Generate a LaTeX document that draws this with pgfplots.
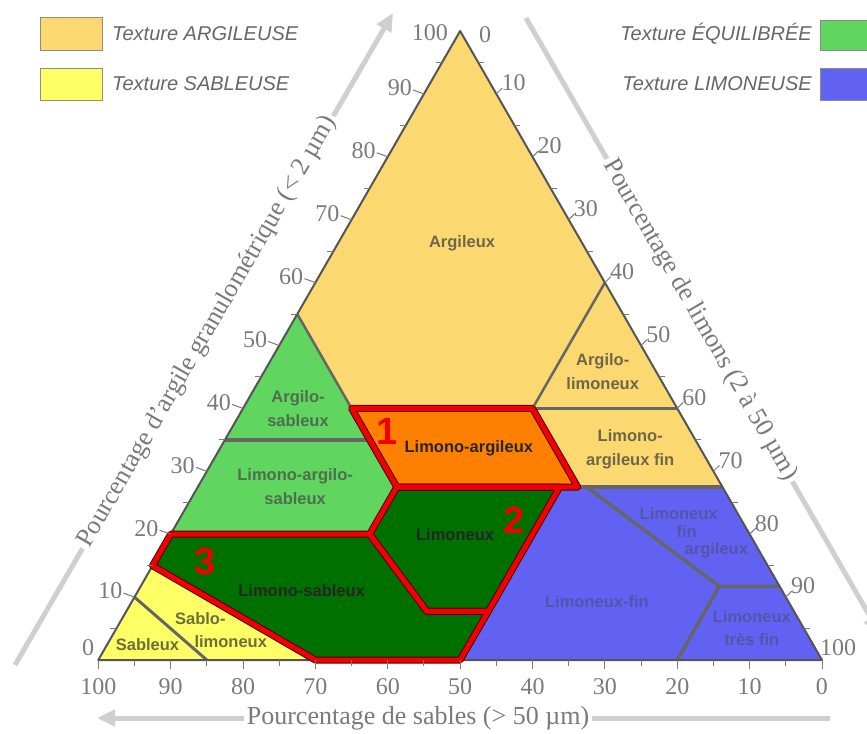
\documentclass[border=0pt]{standalone}
\usepackage{pgfplots}
\pgfplotsset{compat=1.18}
\usepackage{fontspec}
\setmainfont{Liberation Serif}
\newfontfamily\lsans{Liberation Sans}
\usetikzlibrary{arrows.meta}

\definecolor{argi}{HTML}{FCD970}
\definecolor{sabl}{HTML}{FFFF66}
\definecolor{equi}{HTML}{60D660}
\definecolor{limo}{HTML}{6262F2}
\definecolor{orng}{HTML}{FF8000}
\definecolor{dgrn}{HTML}{007000}
\definecolor{bord}{HTML}{666666}
\definecolor{edgec}{HTML}{555555}
\definecolor{tickc}{HTML}{7A7A7A}
\definecolor{arrowc}{HTML}{CFCFCF}
\definecolor{txtargi}{HTML}{6E6648}
\definecolor{txtequi}{HTML}{4E6E4E}
\definecolor{txtsabl}{HTML}{6E6E3A}
\definecolor{txtlimo}{HTML}{5454AA}
\definecolor{redb}{HTML}{F00000}

\begin{document}
\begin{tikzpicture}[
  rl/.style={font=\lsans\bfseries\fontsize{16.5}{24}\selectfont, align=center, inner sep=0pt},
  num/.style={font=\lsans\bfseries\fontsize{38}{38}\selectfont, text=redb, inner sep=0pt},
  tl/.style={font=\fontsize{24}{24}\selectfont, text=tickc, inner sep=0pt},
  gl/.style={bord, line width=3.5pt},
  rb/.style={draw=redb, line width=5pt, line join=round}]
\begin{axis}[name=ax, x=7.237pt, y=6.29pt,
  xmin=-13.58, xmax=106.22, ymin=-11.61, ymax=104.93,
  enlargelimits=false, hide axis, clip=false]

% zones (x = position along the base, y = clay %)
\addplot[fill=argi, draw=none] coordinates {(50,100) (27.5,55) (35,40) (60,40) (70,60)} --cycle;
\addplot[fill=argi, draw=none] coordinates {(70,60) (60,40) (80,40)} --cycle;
\addplot[fill=argi, draw=none] coordinates {(60,40) (80,40) (86.25,27.5) (66.25,27.5)} --cycle;
\addplot[fill=orng, draw=none] coordinates {(35,40) (60,40) (66.25,27.5) (41.25,27.5)} --cycle;
\addplot[fill=equi, draw=none] coordinates {(27.5,55) (17.5,35) (37.5,35) (35,40)} --cycle;
\addplot[fill=equi, draw=none] coordinates {(17.5,35) (37.5,35) (41.25,27.5) (37.5,20) (10,20)} --cycle;
\addplot[fill=dgrn, draw=none] coordinates {(41.25,27.5) (63.75,27.5) (53.9,7.75) (45.4,7.75) (37.5,20)} --cycle;
\addplot[fill=dgrn, draw=none] coordinates {(10,20) (37.5,20) (45.4,7.75) (53.9,7.75) (50,0) (30,0) (7.5,15)} --cycle;
\addplot[fill=sabl, draw=none] coordinates {(0,0) (5,10) (15,0)} --cycle;
\addplot[fill=sabl, draw=none] coordinates {(5,10) (7.5,15) (30,0) (15,0)} --cycle;
\addplot[fill=limo, draw=none] coordinates {(50,0) (63.75,27.5) (67.5,27.5) (85.8,11.7) (80,0)} --cycle;
\addplot[fill=limo, draw=none] coordinates {(67.5,27.5) (86.25,27.5) (94.15,11.7) (85.8,11.7)} --cycle;
\addplot[fill=limo, draw=none] coordinates {(85.8,11.7) (94.15,11.7) (100,0) (80,0)} --cycle;

% boundaries
\addplot[bord, line width=2.5pt] coordinates {(27.5,55) (35,40)};
\addplot[bord, line width=2.5pt] coordinates {(60,40) (70,60)};
\addplot[gl] coordinates {(60,40) (80,40)};
\addplot[gl] coordinates {(17.5,35) (37.5,35)};
\addplot[gl] coordinates {(66.25,27.5) (86.25,27.5)};
\addplot[gl] coordinates {(67.5,27.5) (85.8,11.7) (94.15,11.7)};
\addplot[gl] coordinates {(85.8,11.7) (80,0)};
\addplot[bord, line width=3pt] coordinates {(5,10) (15,0)};
\addplot[edgec, line width=2pt, line join=round] coordinates {(0,0) (100,0) (50,100)} --cycle;

% outlined zones 1, 2, 3
\addplot[rb, draw=black!70!red, line width=7pt] coordinates {(35,40) (60,40) (66.25,27.5) (41.25,27.5)} --cycle;
\addplot[rb, draw=black!70!red, line width=7pt] coordinates {(41.25,27.5) (63.75,27.5) (53.9,7.75) (45.4,7.75) (37.5,20)} --cycle;
\addplot[rb, draw=black!70!red, line width=7pt] coordinates {(10,20) (37.5,20) (45.4,7.75) (53.9,7.75) (50,0) (30,0) (7.5,15)} --cycle;
\addplot[rb] coordinates {(35,40) (60,40) (66.25,27.5) (41.25,27.5)} --cycle;
\addplot[rb] coordinates {(41.25,27.5) (63.75,27.5) (53.9,7.75) (45.4,7.75) (37.5,20)} --cycle;
\addplot[rb] coordinates {(10,20) (37.5,20) (45.4,7.75) (53.9,7.75) (50,0) (30,0) (7.5,15)} --cycle;

% zone names
\node[rl, text=txtargi] at (axis cs:50.26,66.3) {Argileux};
\node[rl, text=txtargi] at (axis cs:69.7,45.8) {Argilo-\\limoneux};
\node[rl, text=txtargi] at (axis cs:73.5,33.5) {Limono-\\argileux fin};
\node[rl, text=txtequi] at (axis cs:27.6,40) {Argilo-\\sableux};
\node[rl, text=txtequi] at (axis cs:27.2,27.5) {Limono-argilo-\\sableux};
\node[rl, text=black!85] at (axis cs:51.2,33.6) {Limono-argileux};
\node[rl, text=black!85] at (axis cs:49.3,19.9) {Limoneux};
\node[rl, text=black!85] at (axis cs:28.1,11.1) {Limono-sableux};
\node[rl, text=txtsabl] at (axis cs:6.8,2.5) {Sableux};
\node[rl, text=txtsabl] at (axis cs:14.1,6.6) {Sablo-};
\node[rl, text=txtsabl] at (axis cs:18.3,2.9) {limoneux};
\node[rl, text=txtlimo] at (axis cs:68.9,9.3) {Limoneux-fin};
\node[rl, text=txtlimo] at (axis cs:80.2,23.3) {Limoneux};
\node[rl, text=txtlimo] at (axis cs:81.3,20.4) {fin};
\node[rl, text=txtlimo] at (axis cs:85.4,17.5) {argileux};
\node[rl, text=txtlimo] at (axis cs:90.3,6.9) {Limoneux};
\node[rl, text=txtlimo] at (axis cs:90.3,3.2) {très fin};
\node[num] at (axis cs:39.9,36.3) {1};
\node[num] at (axis cs:57.4,22.3) {2};
\node[num] at (axis cs:14.7,15.6) {3};

% clay scale (left side)
\pgfplotsinvokeforeach{10,20,...,90}{
  \node[tl, anchor=east, xshift=-12pt, yshift=6pt] at (axis cs:0.5*#1,#1) {#1};
  \draw[tickc, line width=1pt] (axis cs:0.5*#1,#1) -- ++(-11pt,4pt);
}
\pgfplotsinvokeforeach{5,15,...,95}{
  \draw[tickc, line width=1pt] (axis cs:0.5*#1,#1) -- ++(-6pt,0pt);
}
\node[tl, anchor=east, xshift=-12pt, yshift=-2pt] at (axis cs:50,100) {100};
\node[tl, anchor=east, xshift=-4pt, yshift=12pt] at (axis cs:0,0) {0};

% silt scale (right side)
\pgfplotsinvokeforeach{10,20,...,90}{
  \node[tl, anchor=west, xshift=5pt, yshift=11pt] at (axis cs:50+0.5*#1,100-#1) {#1};
  \draw[tickc, line width=1pt] (axis cs:50+0.5*#1,100-#1) -- ++(6pt,6pt);
}
\pgfplotsinvokeforeach{5,15,...,95}{
  \draw[tickc, line width=1pt] (axis cs:50+0.5*#1,100-#1) -- ++(6pt,0pt);
}
\node[tl, xshift=25pt, yshift=-4pt] at (axis cs:50,100) {0};
\node[tl, anchor=west, xshift=-2pt, yshift=12pt] at (axis cs:100,0) {100};

% sand scale (bottom)
\pgfplotsinvokeforeach{0,10,...,100}{
  \node[tl, yshift=-27pt] at (axis cs:100-#1,0) {#1};
  \draw[tickc, line width=1pt] (axis cs:100-#1,0) -- ++(0pt,-9pt);
}
\pgfplotsinvokeforeach{5,15,...,95}{
  \draw[tickc, line width=1pt] (axis cs:100-#1,0) -- ++(0pt,-6pt);
}
\end{axis}

% titles, arrows and legend, in pixel units from the top-left corner
\begin{scope}[shift={(ax.north west)}, x=1pt, y=-1pt,
  ttl/.style={font=\fontsize{26}{26}\selectfont, text=tickc, fill=white, inner sep=3pt},
  arr/.style={arrowc, line width=5pt, -{Triangle[length=18pt,width=16pt]}},
  lg/.style={font=\lsans\itshape\fontsize{20}{24}\selectfont, text=black!60, inner sep=0pt}]
\draw[arr] (15,665) -- (393,13);
\node[ttl, rotate=60] at (207.5,332) {Pourcentage d'argile granulométrique (< 2 µm)};
\draw[arr] (526,18) -- (880,634);
\node[ttl, rotate=-60] at (700,320) {Pourcentage de limons (2 à 50 µm)};
\draw[arr] (830,718) -- (97,718);
\node[ttl] at (418,718) {Pourcentage de sables (> 50 µm)};

\draw[fill=argi, draw=black!45] (40,17) rectangle (102,50);
\node[lg, anchor=west] at (112,33.5) {Texture ARGILEUSE};
\draw[fill=sabl, draw=black!45] (40,68) rectangle (102,100);
\node[lg, anchor=west] at (112,84) {Texture SABLEUSE};
\draw[fill=equi, draw=black!45] (820,20) rectangle (880,50);
\node[lg, anchor=east] at (812,33.5) {Texture ÉQUILIBRÉE};
\draw[fill=limo, draw=black!45] (820,68) rectangle (880,100);
\node[lg, anchor=east] at (812,84) {Texture LIMONEUSE};
\end{scope}

\pgfresetboundingbox
\path[use as bounding box] (ax.south west) rectangle (ax.north east);
\end{tikzpicture}
\end{document}
